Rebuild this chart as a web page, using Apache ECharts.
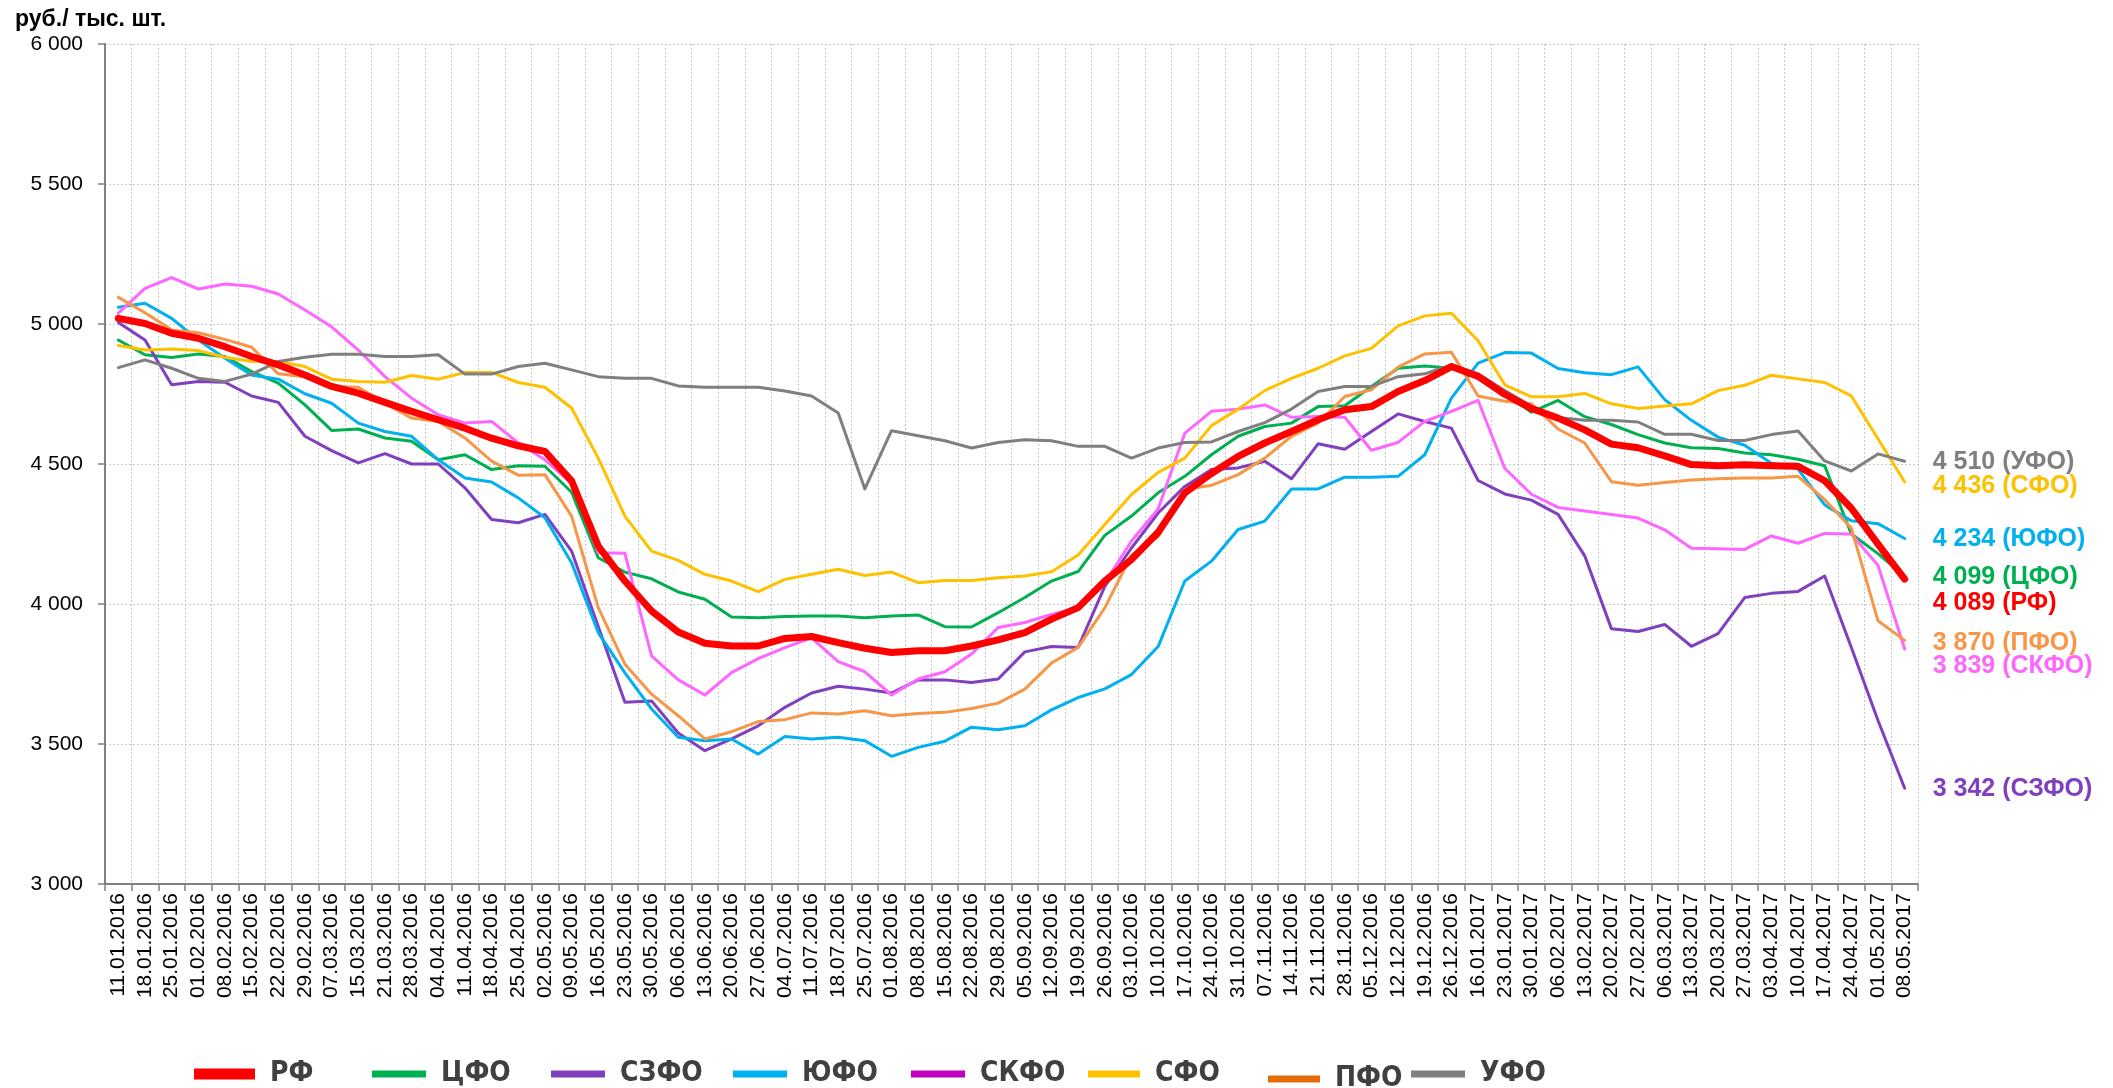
<!DOCTYPE html>
<html>
<head>
<meta charset="utf-8">
<script src="https://cdn.jsdelivr.net/npm/echarts@6/dist/echarts.min.js"></script>
<style>
html,body{margin:0;padding:0;background:#fff;}
#c{width:2113px;height:1088px;}
</style>
</head>
<body>
<div id="c"></div>
<script>
const dates = ['11.01.2016','18.01.2016','25.01.2016','01.02.2016','08.02.2016','15.02.2016','22.02.2016','29.02.2016','07.03.2016','15.03.2016','21.03.2016','28.03.2016','04.04.2016','11.04.2016','18.04.2016','25.04.2016','02.05.2016','09.05.2016','16.05.2016','23.05.2016','30.05.2016','06.06.2016','13.06.2016','20.06.2016','27.06.2016','04.07.2016','11.07.2016','18.07.2016','25.07.2016','01.08.2016','08.08.2016','15.08.2016','22.08.2016','29.08.2016','05.09.2016','12.09.2016','19.09.2016','26.09.2016','03.10.2016','10.10.2016','17.10.2016','24.10.2016','31.10.2016','07.11.2016','14.11.2016','21.11.2016','28.11.2016','05.12.2016','12.12.2016','19.12.2016','26.12.2016','16.01.2017','23.01.2017','30.01.2017','06.02.2017','13.02.2017','20.02.2017','27.02.2017','06.03.2017','13.03.2017','20.03.2017','27.03.2017','03.04.2017','10.04.2017','17.04.2017','24.04.2017','01.05.2017','08.05.2017'];

const RF   = [5020,5002,4967,4949,4919,4884,4854,4818,4777,4753,4720,4688,4658,4628,4592,4565,4545,4440,4207,4082,3975,3900,3860,3850,3850,3877,3884,3862,3842,3827,3833,3833,3850,3872,3898,3946,3987,4082,4159,4256,4397,4466,4527,4575,4616,4658,4694,4705,4759,4798,4848,4813,4749,4698,4664,4622,4571,4558,4529,4498,4494,4497,4494,4492,4440,4342,4214,4089];
const CFO  = [4943,4890,4880,4893,4884,4830,4789,4711,4620,4625,4593,4581,4515,4533,4480,4494,4492,4399,4165,4114,4090,4043,4017,3954,3951,3955,3957,3957,3951,3957,3961,3919,3918,3969,4023,4082,4116,4245,4314,4397,4456,4533,4599,4634,4646,4705,4708,4777,4842,4850,4842,4815,4755,4685,4727,4669,4641,4605,4575,4558,4555,4539,4533,4517,4494,4250,4180,4099];
const SZFO = [5005,4943,4783,4795,4792,4743,4720,4599,4548,4504,4537,4500,4500,4415,4302,4290,4320,4189,3920,3649,3654,3539,3476,3518,3565,3631,3682,3706,3696,3682,3729,3729,3720,3732,3829,3848,3845,4063,4200,4325,4420,4480,4486,4510,4447,4572,4553,4616,4679,4652,4628,4441,4393,4371,4320,4172,3912,3902,3927,3849,3894,4023,4038,4045,4100,3845,3584,3342];
const UFO_S= [5060,5074,5020,4943,4878,4818,4803,4751,4717,4646,4616,4599,4515,4450,4436,4379,4308,4147,3898,3754,3625,3524,3512,3518,3464,3527,3518,3524,3512,3456,3488,3510,3560,3551,3565,3622,3666,3697,3748,3848,4082,4153,4266,4296,4411,4411,4453,4453,4456,4533,4735,4860,4898,4896,4841,4826,4819,4847,4730,4656,4596,4567,4503,4482,4354,4297,4287,4234];
const SKFO = [5039,5127,5166,5125,5143,5135,5107,5050,4990,4907,4812,4735,4676,4646,4652,4575,4515,4430,4183,4181,3815,3729,3675,3755,3805,3844,3879,3794,3758,3675,3732,3758,3821,3916,3934,3963,3987,4076,4225,4339,4610,4688,4696,4711,4667,4670,4667,4549,4577,4652,4688,4727,4485,4392,4345,4332,4320,4307,4265,4199,4197,4195,4243,4217,4252,4250,4138,3839];
const SFO  = [4923,4907,4911,4905,4881,4866,4866,4848,4803,4795,4792,4816,4803,4827,4827,4791,4774,4700,4521,4314,4189,4156,4106,4082,4044,4088,4106,4124,4102,4114,4076,4084,4084,4094,4100,4115,4175,4284,4391,4470,4521,4637,4696,4762,4806,4842,4886,4913,4993,5029,5038,4940,4783,4740,4740,4752,4715,4698,4707,4715,4762,4781,4817,4804,4791,4743,4590,4436];
const PFO  = [5095,5040,4979,4969,4945,4917,4822,4812,4777,4774,4717,4664,4652,4593,4510,4460,4462,4314,3987,3785,3678,3601,3518,3544,3580,3587,3611,3607,3619,3601,3609,3613,3627,3646,3696,3789,3845,3986,4174,4240,4409,4424,4462,4521,4599,4646,4741,4765,4846,4893,4899,4743,4724,4715,4625,4575,4437,4424,4434,4443,4447,4450,4450,4456,4373,4271,3940,3870];
const URFO = [4844,4872,4842,4806,4795,4821,4866,4881,4892,4892,4884,4884,4890,4821,4821,4848,4860,4836,4812,4806,4806,4779,4774,4774,4774,4761,4743,4682,4411,4619,4601,4583,4557,4577,4587,4583,4563,4563,4521,4557,4577,4579,4616,4648,4696,4759,4777,4777,4812,4822,4854,4822,4762,4707,4666,4656,4656,4650,4606,4606,4584,4584,4605,4618,4511,4475,4536,4510];

const yTicks = {min: 3000, max: 6000, step: 500};

const fmt = v => String(v).replace(/\B(?=(\d{3})+(?!\d))/g, ' ');

const defs = [
  {name:'ЦФО',  data:CFO,   color:'#00B050', w:3, dy:1},
  {name:'СЗФО', data:SZFO,  color:'#7F3FBF', w:3, dy:1},
  {name:'ЮФО',  data:UFO_S, color:'#00B0F0', w:3, dy:1},
  {name:'СКФО', data:SKFO,  color:'#FF66FF', w:3, dy:17},
  {name:'СФО',  data:SFO,   color:'#FFC000', w:3, dy:4},
  {name:'ПФО',  data:PFO,   color:'#F79646', w:3, dy:3},
  {name:'УФО',  data:URFO,  color:'#7F7F7F', w:3, dy:1},
  {name:'РФ',   data:RF,    color:'#FF0000', w:7, dy:24}
];

const series = defs.map(d => ({
  name: d.name,
  type: 'line',
  data: d.data,
  symbol: 'none',
  z: d.name === 'РФ' ? 5 : 2,
  itemStyle: {color: d.color},
  lineStyle: {color: d.color, width: d.w, cap: 'round', join: 'round'},
  endLabel: {
    show: true,
    distance: 28,
    offset: [0, d.dy],
    formatter: p => fmt(p.value) + ' (' + p.seriesName + ')',
    color: d.color,
    fontFamily: "'Liberation Sans', Arial, sans-serif",
    fontWeight: 'bold',
    fontSize: 25
  }
}));

const legendItems = [
  {name:'РФ',   left:189,  w:61, h:11},
  {name:'ЦФО',  left:367,  w:54, h:7},
  {name:'СЗФО', left:546,  w:54, h:7},
  {name:'ЮФО',  left:728,  w:54, h:7},
  {name:'СКФО', left:906,  w:54, h:7, color:'#C000C0'},
  {name:'СФО',  left:1083, w:52, h:7},
  {name:'ПФО',  left:1263, w:52, h:7, color:'#E36C09', dt:5},
  {name:'УФО',  left:1406, w:54, h:7}
];

const legends = legendItems.map(it => ({
  data: [it.color ? {name: it.name, itemStyle: {color: it.color}} : {name: it.name}],
  left: it.left,
  top: 1051 + (it.dt || 0),
  icon: 'rect',
  itemWidth: it.w,
  itemHeight: it.h,
  selectedMode: false,
  textStyle: {
    color: '#404040',
    fontFamily: "'DejaVu Sans Condensed', 'Liberation Sans Narrow', 'Roboto Condensed', 'DejaVu Sans', sans-serif",
    fontWeight: 'bold',
    fontSize: 28,
    lineHeight: 36,
    padding: [0, 0, 0, 10]
  }
}));

const chart = echarts.init(document.getElementById('c'), null, {renderer: 'canvas'});
chart.setOption({
  animation: false,
  backgroundColor: '#fff',
  title: {
    text: 'руб./ тыс. шт.',
    left: 10, top: 3,
    textStyle: {fontFamily: "'Liberation Sans', Arial, sans-serif", fontWeight: 'bold', fontSize: 23, color: '#000'}
  },
  legend: legends,
  grid: {left: 105, right: 195, top: 44, bottom: 204, containLabel: false},
  xAxis: {
    type: 'category',
    data: dates,
    boundaryGap: true,
    axisLine: {lineStyle: {color: '#808080', width: 2}},
    axisTick: {show: true, interval: 0, length: 7, lineStyle: {color: '#808080', width: 1.5}},
    axisLabel: {interval: 0, rotate: 90, margin: 9, fontSize: 21, color: '#000', fontFamily: "'Liberation Sans', Arial, sans-serif"},
    splitLine: {show: true, interval: 0, lineStyle: {color: '#C8C8C8', width: 1, type: [2, 2]}}
  },
  yAxis: {
    type: 'value',
    min: yTicks.min, max: yTicks.max, interval: yTicks.step,
    axisLine: {show: true, lineStyle: {color: '#808080', width: 2}},
    axisTick: {show: true, length: 7, lineStyle: {color: '#808080', width: 1.5}},
    axisLabel: {formatter: v => fmt(v), margin: 22, fontSize: 21, color: '#000', fontFamily: "'Liberation Sans', Arial, sans-serif"},
    splitLine: {show: true, lineStyle: {color: '#C8C8C8', width: 1, type: [2, 2]}}
  },
  series: series
});
</script>
</body>
</html>
